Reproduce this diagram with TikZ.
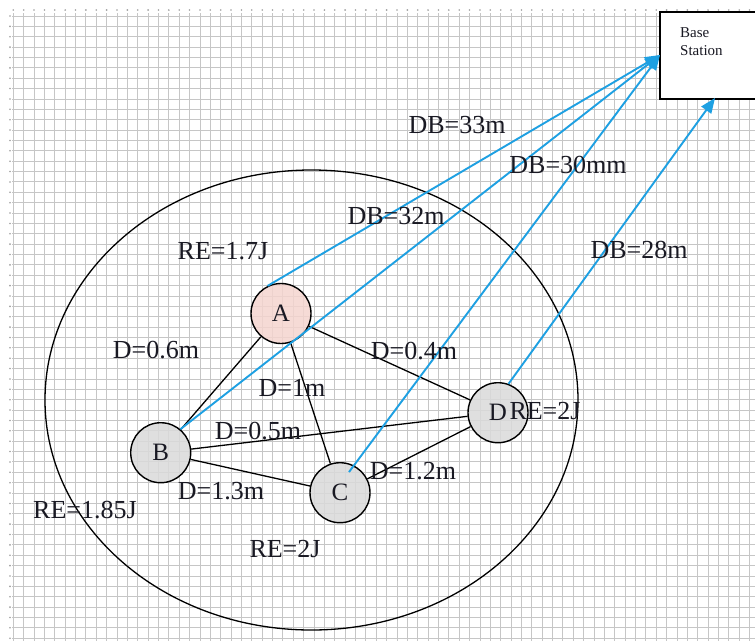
\documentclass[tikz,border=0pt]{standalone}
\usepackage{fontspec}
\setmainfont{Liberation Serif}
\usetikzlibrary{arrows.meta}
\definecolor{bluearrow}{RGB}{30,160,226}
\definecolor{nodepink}{RGB}{245,213,207}
\definecolor{nodegray}{RGB}{218,218,218}
\definecolor{txt}{RGB}{25,25,35}
\begin{document}
\begin{tikzpicture}[x=1pt,y=-1pt,
  gridline/.style={draw=gray!45, line width=0.9pt},
  lbl/.style={font=\fontsize{26}{28}\selectfont, inner sep=0pt, anchor=base, text=txt},
  sensor/.style={circle, draw=black, line width=1.4pt, minimum size=60pt, inner sep=0pt, font=\fontsize{25}{27}\selectfont, text=txt},
  link/.style={draw=black, line width=1.3pt},
  tobs/.style={draw=bluearrow, line width=1.9pt, -{Triangle[length=15pt,width=12pt]}}]
\useasboundingbox (0,0) rectangle (755,641);
\fill[white] (0,0) rectangle (755,641);
% grid
\foreach \i in {0,...,71} \draw[gridline] ({13.3+\i*10.37},13) -- ({13.3+\i*10.37},641);
\foreach \j in {0,...,60} \draw[gridline] (12,{16+\j*10.37}) -- (755,{16+\j*10.37});
\foreach \i in {0,...,71} \fill[gray!75] ({13.3+\i*10.37},10) circle (0.9pt);
\foreach \j in {0,...,60} \fill[gray!75] (10,{16+\j*10.37}) circle (0.9pt);
% base station
\node[draw=black, fill=white, line width=1.5pt, minimum width=130pt, minimum height=87pt, anchor=north west] (bs) at (659,11) {};
\node[font=\fontsize{15}{18}\selectfont, align=left, anchor=north west, inner sep=0pt, text=txt] (bstext) at (680,27) {Base\\Station};
\coordinate (t1) at (660,55);
\coordinate (t2) at (715,98);
% cluster ellipse
\draw[black, line width=1.3pt] (311.5,400) ellipse [x radius=266.5, y radius=230];
% sensors
\node[sensor, fill=nodepink, fill opacity=0.85, text opacity=1] (A) at (281,313.5) {A};
\node[sensor, fill=nodegray, fill opacity=0.85, text opacity=1] (B) at (160.7,452.7) {B};
\node[sensor, fill=nodegray, fill opacity=0.85, text opacity=1] (C) at (340,492.7) {C};
\node[sensor, fill=nodegray, fill opacity=0.85, text opacity=1] (D) at (498,412.7) {D};
% links
\draw[link] (A) -- (B);
\draw[link] (A) -- (C);
\draw[link] (A) -- (D);
\draw[link] (B) -- (C);
\draw[link] (B) -- (D);
\draw[link] (C) -- (D);
% links to base station
\coordinate (cs) at (349,472);
\draw[tobs] (A.116) -- (t1);
\draw[tobs] (B.50) -- (t1);
\draw[tobs] (cs) -- (t1);
\draw[tobs] (D.70) -- (t2);
% labels
\node[lbl] (l1) at (457,133) {DB=33m};
\node[lbl] (l2) at (568,173) {DB=30mm};
\node[lbl] (l3) at (396,224) {DB=32m};
\node[lbl] (l4) at (639,258) {DB=28m};
\node[lbl] (l5) at (223,259) {RE=1.7J};
\node[lbl] (l6) at (156,358) {D=0.6m};
\node[lbl] (l7) at (414,359) {D=0.4m};
\node[lbl] (l8) at (292,396) {D=1m};
\node[lbl] (l9) at (258,439) {D=0.5m};
\node[lbl] (l10) at (545,419) {RE=2J};
\node[lbl] (l11) at (221,499) {D=1.3m};
\node[lbl] (l12) at (413,479) {D=1.2m};
\node[lbl] (l13) at (85,518) {RE=1.85J};
\node[lbl] (l14) at (285,557) {RE=2J};
\end{tikzpicture}
\end{document}
